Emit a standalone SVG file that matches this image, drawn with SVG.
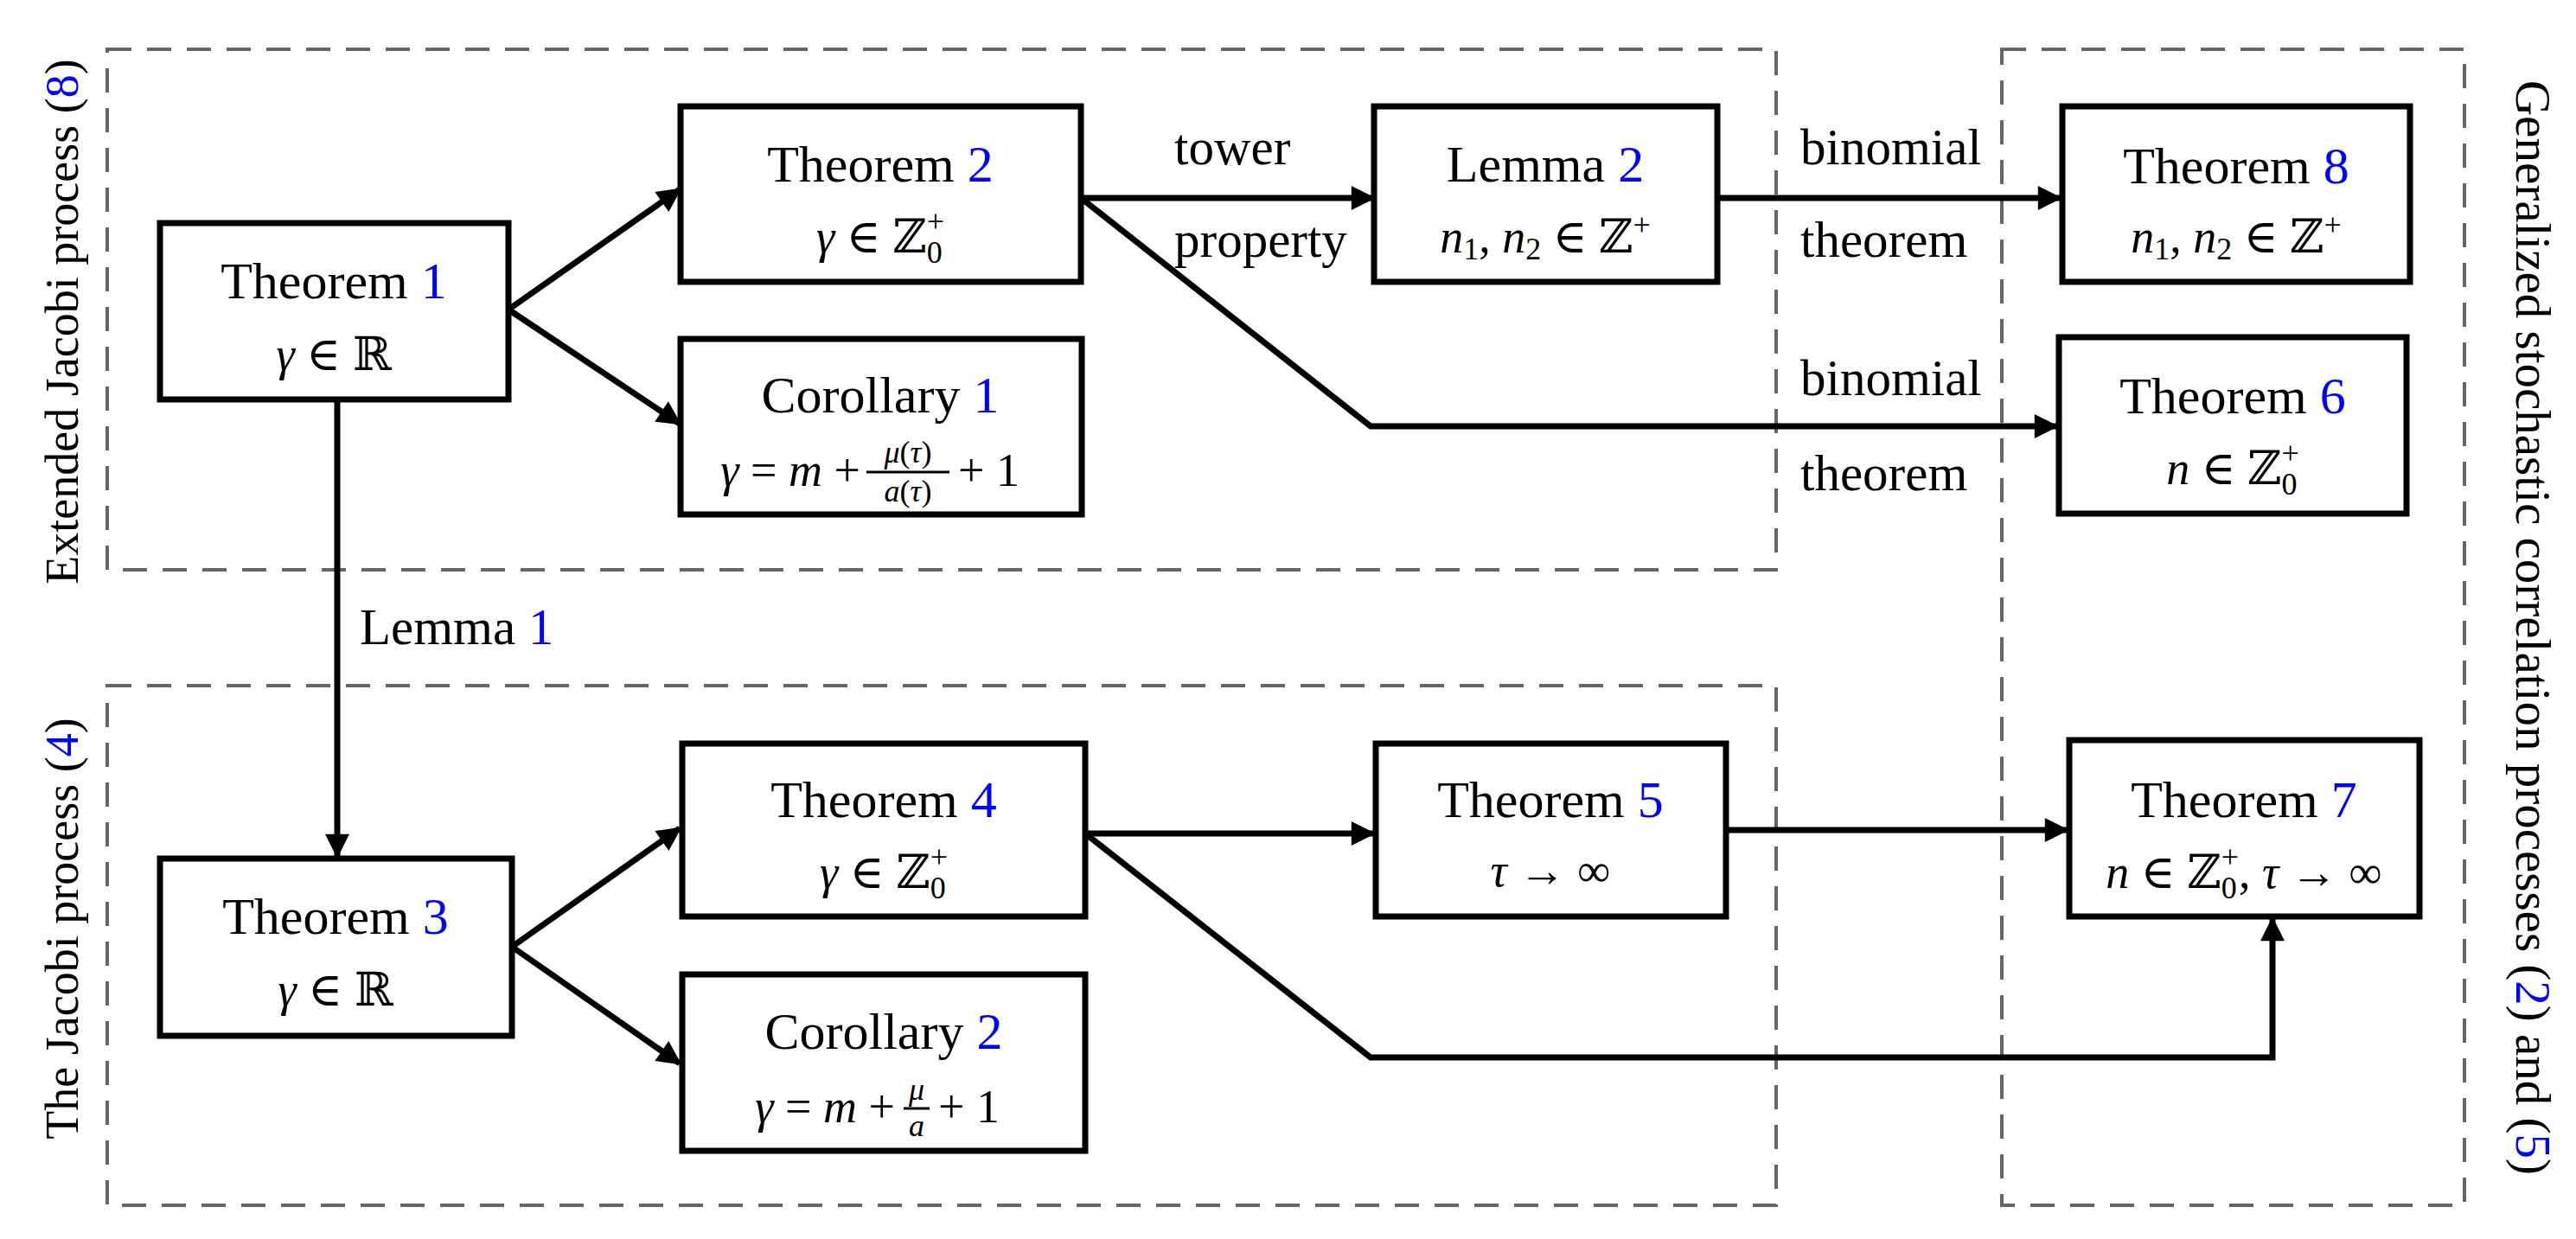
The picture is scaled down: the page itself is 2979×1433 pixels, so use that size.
<svg xmlns="http://www.w3.org/2000/svg" width="2979" height="1433" viewBox="0 0 2979 1433">
<style>
text{font-family:"Liberation Serif","DejaVu Serif",serif;fill:#000}
.t{font-size:60px;text-anchor:middle}
.m{font-size:54px;text-anchor:middle}
.i{font-style:italic}
.b{fill:#0000ff}
.s{font-size:36px}
.box{fill:#fff;stroke:#000;stroke-width:7}
.grp{fill:none;stroke:#666;stroke-width:4;stroke-dasharray:28,18}
.e{fill:none;stroke:#000;stroke-width:7}
.lab{font-size:59px}
</style>
<defs>
<marker id="ar" viewBox="0 0 10 10" refX="9" refY="5" markerWidth="5" markerHeight="4" orient="auto" markerUnits="strokeWidth">
<path d="M0,0 L10,5 L0,10 Z" fill="#000"/>
</marker>
</defs>
<g id="groups">
<rect class="grp" x="124" y="57" width="1930" height="602"/>
<rect class="grp" x="124" y="793" width="1930" height="601"/>
<rect class="grp" x="2315" y="57" width="535" height="1337"/>
<text style="font-size:54px" transform="translate(90,372) rotate(-90)" text-anchor="middle">Extended Jacobi process (<tspan class="b">8</tspan>)</text>
<text style="font-size:54px" transform="translate(90,1074) rotate(-90)" text-anchor="middle">The Jacobi process (<tspan class="b">4</tspan>)</text>
<text style="font-size:57px" transform="translate(2910,726) rotate(90)" text-anchor="middle">Generalized stochastic correlation processes (<tspan class="b">2</tspan>) and (<tspan class="b">5</tspan>)</text>
</g>
<g id="connectors">
<line class="e" x1="588" y1="358" x2="786" y2="219" marker-end="url(#ar)"/>
<line class="e" x1="588" y1="358" x2="786" y2="490" marker-end="url(#ar)"/>
<line class="e" x1="1250" y1="229" x2="1588" y2="229" marker-end="url(#ar)"/>
<polyline class="e" points="1250,229 1585,493 2378,493" marker-end="url(#ar)"/>
<line class="e" x1="1986" y1="229" x2="2382" y2="229" marker-end="url(#ar)"/>
<line class="e" x1="390" y1="462" x2="390" y2="990" marker-end="url(#ar)"/>
<line class="e" x1="592" y1="1095" x2="786" y2="958" marker-end="url(#ar)"/>
<line class="e" x1="592" y1="1095" x2="786" y2="1230" marker-end="url(#ar)"/>
<line class="e" x1="1255" y1="964" x2="1588" y2="964" marker-end="url(#ar)"/>
<polyline class="e" points="1255,964 1585,1223 2628,1223 2628,1063" marker-end="url(#ar)"/>
<line class="e" x1="1996" y1="960" x2="2390" y2="960" marker-end="url(#ar)"/>
<text class="lab" x="1358" y="190">tower</text>
<text class="lab" x="1358" y="297">property</text>
<text class="lab" x="2082" y="190">binomial</text>
<text class="lab" x="2082" y="297">theorem</text>
<text class="lab" x="2082" y="457">binomial</text>
<text class="lab" x="2082" y="567">theorem</text>
<text class="lab" x="416" y="745">Lemma <tspan class="b">1</tspan></text>
</g>
<g id="thm1"><rect class="box" x="185" y="258" width="403" height="204"/>
<text class="t" x="386" y="345">Theorem <tspan class="b">1</tspan></text>
<text class="m" x="386" y="428"><tspan class="i">γ</tspan> ∈ ℝ</text></g>
<g id="thm2"><rect class="box" x="787" y="123" width="463" height="203"/>
<text class="t" x="1018" y="210">Theorem <tspan class="b">2</tspan></text>
<text class="m" x="1018" y="292"><tspan class="i">γ</tspan> ∈ ℤ<tspan class="s" dy="12">0</tspan><tspan class="s" dx="-18" dy="-36">+</tspan></text></g>
<g id="cor1"><rect class="box" x="787" y="392" width="464" height="203"/>
<text class="t" x="1018" y="477">Corollary <tspan class="b">1</tspan></text>
<text style="font-size:54px;text-anchor:end" x="995" y="562"><tspan class="i">γ</tspan> = <tspan class="i">m</tspan> +</text>
<text class="s" style="text-anchor:middle" x="1050" y="535"><tspan class="i">μ</tspan>(<tspan class="i">τ</tspan>)</text>
<line x1="1002" y1="546" x2="1098" y2="546" stroke="#000" stroke-width="3"/>
<text class="s" style="text-anchor:middle" x="1050" y="580"><tspan class="i">a</tspan>(<tspan class="i">τ</tspan>)</text>
<text style="font-size:54px;text-anchor:start" x="1108" y="562">+ 1</text></g>
<g id="lem2"><rect class="box" x="1589" y="123" width="397" height="203"/>
<text class="t" x="1787" y="210">Lemma <tspan class="b">2</tspan></text>
<text class="m" x="1787" y="292"><tspan class="i">n</tspan><tspan class="s" dy="8">1</tspan><tspan dy="-8">, </tspan><tspan class="i">n</tspan><tspan class="s" dy="8">2</tspan><tspan dy="-8"> ∈ ℤ</tspan><tspan class="s" dy="-20">+</tspan></text></g>
<g id="thm8"><rect class="box" x="2385" y="123" width="402" height="203"/>
<text class="t" x="2586" y="212">Theorem <tspan class="b">8</tspan></text>
<text class="m" x="2586" y="292"><tspan class="i">n</tspan><tspan class="s" dy="8">1</tspan><tspan dy="-8">, </tspan><tspan class="i">n</tspan><tspan class="s" dy="8">2</tspan><tspan dy="-8"> ∈ ℤ</tspan><tspan class="s" dy="-20">+</tspan></text></g>
<g id="thm6"><rect class="box" x="2381" y="390" width="402" height="204"/>
<text class="t" x="2582" y="478">Theorem <tspan class="b">6</tspan></text>
<text class="m" x="2582" y="560"><tspan class="i">n</tspan> ∈ ℤ<tspan class="s" dy="12">0</tspan><tspan class="s" dx="-18" dy="-36">+</tspan></text></g>
<g id="thm3"><rect class="box" x="185" y="993" width="407" height="205"/>
<text class="t" x="388" y="1080">Theorem <tspan class="b">3</tspan></text>
<text class="m" x="388" y="1163"><tspan class="i">γ</tspan> ∈ ℝ</text></g>
<g id="thm4"><rect class="box" x="789" y="860" width="466" height="200"/>
<text class="t" x="1022" y="945">Theorem <tspan class="b">4</tspan></text>
<text class="m" x="1022" y="1027"><tspan class="i">γ</tspan> ∈ ℤ<tspan class="s" dy="12">0</tspan><tspan class="s" dx="-18" dy="-36">+</tspan></text></g>
<g id="cor2"><rect class="box" x="789" y="1127" width="466" height="204"/>
<text class="t" x="1022" y="1213">Corollary <tspan class="b">2</tspan></text>
<text style="font-size:54px;text-anchor:end" x="1035" y="1298"><tspan class="i">γ</tspan> = <tspan class="i">m</tspan> +</text>
<text class="s i" style="text-anchor:middle" x="1060" y="1272">μ</text>
<line x1="1045" y1="1282" x2="1075" y2="1282" stroke="#000" stroke-width="3"/>
<text class="s i" style="text-anchor:middle" x="1060" y="1314">a</text>
<text style="font-size:54px;text-anchor:start" x="1085" y="1298">+ 1</text></g>
<g id="thm5"><rect class="box" x="1591" y="860" width="405" height="200"/>
<text class="t" x="1793" y="945">Theorem <tspan class="b">5</tspan></text>
<text class="m" x="1793" y="1025"><tspan class="i">τ</tspan> → ∞</text></g>
<g id="thm7"><rect class="box" x="2393" y="856" width="405" height="204"/>
<text class="t" x="2595" y="945">Theorem <tspan class="b">7</tspan></text>
<text class="m" x="2595" y="1027"><tspan class="i">n</tspan> ∈ ℤ<tspan class="s" dy="12">0</tspan><tspan class="s" dx="-18" dy="-36">+</tspan><tspan dy="24">, </tspan><tspan class="i">τ</tspan> → ∞</text></g>
</svg>
